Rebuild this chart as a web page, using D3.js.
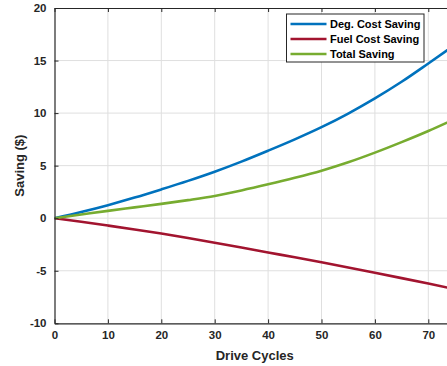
<!DOCTYPE html>
<html>
<head>
<meta charset="utf-8">
<script src="https://cdn.jsdelivr.net/npm/d3@7"></script>
<style>
  html, body { margin: 0; padding: 0; background: #fff; overflow: hidden; }
  svg { display: block; font-family: "Liberation Sans", Arial, Helvetica, sans-serif; }
</style>
</head>
<body>
<svg id="chart" width="447" height="366"></svg>
<script>
// Savings per number of drive cycles
const driveCycles = [0, 5, 10, 15, 20, 25, 30, 35, 40, 45, 50, 55, 60, 65, 70, 75];
const degCostSaving = [0, 0.59, 1.24, 1.96, 2.74, 3.55, 4.42, 5.38, 6.42, 7.50, 8.66, 9.96, 11.40, 12.98, 14.72, 16.50];
const fuelCostSaving = [0, -0.34, -0.70, -1.07, -1.46, -1.89, -2.33, -2.79, -3.26, -3.72, -4.20, -4.69, -5.19, -5.70, -6.22, -6.75];
const totalSaving = [0, 0.35, 0.70, 1.03, 1.36, 1.72, 2.12, 2.64, 3.22, 3.84, 4.52, 5.32, 6.24, 7.24, 8.30, 9.45];

const xTicks = [0, 10, 20, 30, 40, 50, 60, 70];
const yTicks = [-10, -5, 0, 5, 10, 15, 20];

const seriesNames = ["Deg. Cost Saving", "Fuel Cost Saving", "Total Saving"];
const seriesColors = ["#0072BD", "#A2142F", "#77AC30"];
const seriesValues = [degCostSaving, fuelCostSaving, totalSaving];

const margin = { left: 54.5, top: 8 };
const plotW = 400.5, plotH = 315.3;
const axisColor = "#262626";

const svg = d3.select("#chart");
const g = svg.append("g").attr("transform", `translate(${margin.left},${margin.top})`);

const x = d3.scaleLinear().domain([0, 75]).range([0, plotW]);
const y = d3.scaleLinear().domain([-10, 20]).range([plotH, 0]);

// grid
g.append("g").selectAll("line").data(xTicks.slice(1)).join("line")
  .attr("x1", d => x(d)).attr("x2", d => x(d)).attr("y1", 0).attr("y2", plotH)
  .attr("stroke", "#dfdfdf").attr("stroke-width", 1);
g.append("g").selectAll("line").data(yTicks.slice(1, -1)).join("line")
  .attr("x1", 0).attr("x2", plotW).attr("y1", d => y(d)).attr("y2", d => y(d))
  .attr("stroke", "#dfdfdf").attr("stroke-width", 1);

// series
const defs = svg.append("defs");
defs.append("clipPath").attr("id", "plotClip")
  .append("rect").attr("x", 0).attr("y", 0).attr("width", plotW).attr("height", plotH);

const line = d3.line()
  .x((d, i) => x(driveCycles[i]))
  .y(d => y(d))
  .curve(d3.curveMonotoneX);

g.append("g").attr("clip-path", "url(#plotClip)")
  .selectAll("path").data(seriesValues).join("path")
  .attr("d", d => line(d))
  .attr("fill", "none")
  .attr("stroke", (d, i) => seriesColors[i])
  .attr("stroke-width", 2.6)
  .attr("stroke-linejoin", "round");

// axes with inward ticks, plain hyphen for negatives
const plainNum = d => String(d);

function styleAxis(sel) {
  sel.select(".domain").attr("stroke", axisColor).attr("stroke-width", 1.2);
  sel.selectAll(".tick line").attr("stroke", axisColor).attr("stroke-width", 1);
  sel.selectAll(".tick text")
    .attr("fill", axisColor)
    .attr("font-size", 11.5)
    .attr("font-weight", "bold");
}

const xAxis = g.append("g").attr("transform", `translate(0,${plotH})`)
  .call(d3.axisBottom(x).tickValues(xTicks).tickFormat(plainNum).tickSizeInner(-4).tickSizeOuter(0).tickPadding(8));
styleAxis(xAxis);

const xAxisTop = g.append("g")
  .call(d3.axisTop(x).tickValues(xTicks).tickSizeInner(-4).tickSizeOuter(0).tickFormat(""));
styleAxis(xAxisTop);

const yAxis = g.append("g")
  .call(d3.axisLeft(y).tickValues(yTicks).tickFormat(plainNum).tickSizeInner(-4).tickSizeOuter(0).tickPadding(8));
styleAxis(yAxis);

// axis titles
svg.append("text")
  .attr("x", margin.left + x(37.5)).attr("y", 360)
  .attr("text-anchor", "middle")
  .attr("font-size", 13).attr("font-weight", "bold").attr("fill", axisColor)
  .text("Drive Cycles");

svg.append("text")
  .attr("transform", `translate(24,${margin.top + plotH / 2}) rotate(-90)`)
  .attr("text-anchor", "middle")
  .attr("font-size", 13).attr("font-weight", "bold").attr("fill", axisColor)
  .text("Saving ($)");

// legend
const legend = svg.append("g").attr("transform", "translate(286.5,14)");
legend.append("rect")
  .attr("width", 137.5).attr("height", 48)
  .attr("fill", "#fff").attr("stroke", axisColor).attr("stroke-width", 1);
const rows = legend.selectAll("g.row").data(seriesNames).join("g")
  .attr("class", "row")
  .attr("transform", (d, i) => `translate(0,${10 + i * 15})`);
rows.append("line")
  .attr("x1", 4).attr("x2", 40).attr("y1", 0).attr("y2", 0)
  .attr("stroke", (d, i) => seriesColors[i]).attr("stroke-width", 2.6);
rows.append("text")
  .attr("x", 43.5).attr("y", 4)
  .attr("font-size", 11).attr("font-weight", "bold").attr("fill", "#000")
  .text(d => d);
</script>
</body>
</html>
